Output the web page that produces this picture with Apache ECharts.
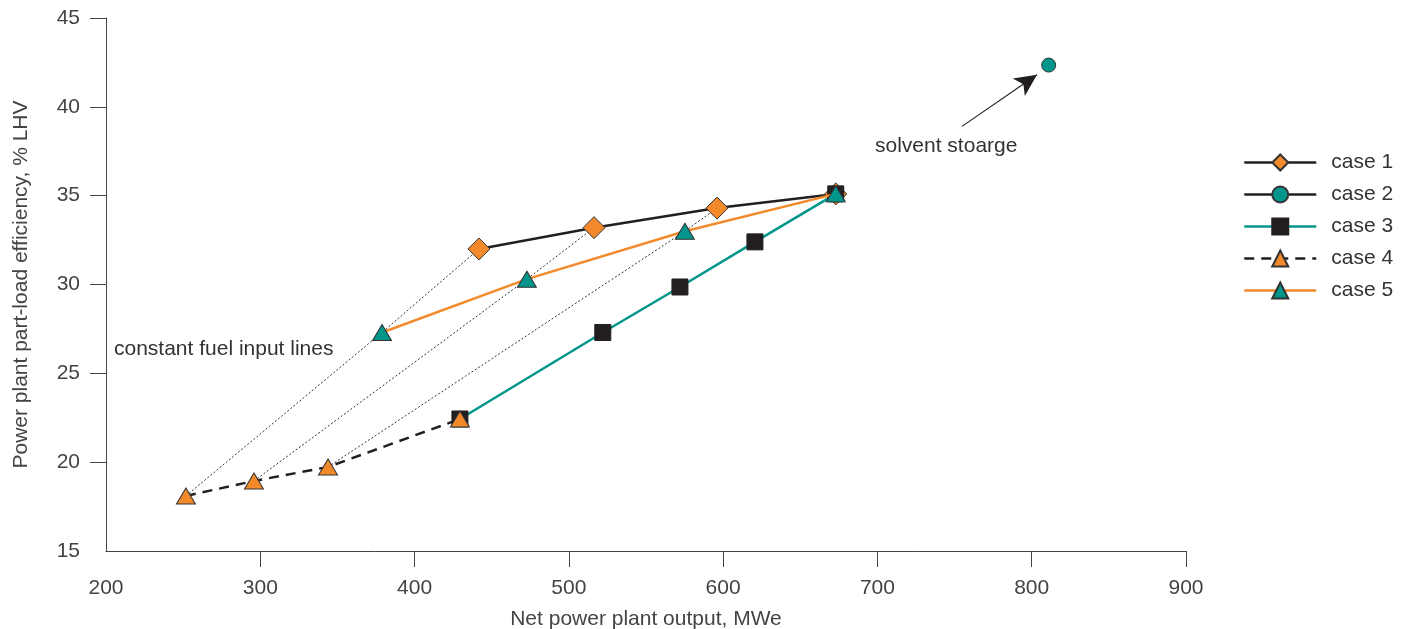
<!DOCTYPE html>
<html>
<head>
<meta charset="utf-8">
<script src="https://cdn.jsdelivr.net/npm/echarts@6/dist/echarts.min.js"></script>
<style>
  html, body { margin: 0; padding: 0; background: #fff; }
  #chart { width: 1409px; height: 629px; }
</style>
</head>
<body>
<div id="chart"></div>
<script>
// values: [net output MWe, efficiency %LHV]
const case1 = [[441.7, 32.0], [516.3, 33.2], [596, 34.3], [673, 35.1]]
const case2 = [[811, 42.35]]
const case3 = [[429.4, 22.43], [522, 27.3], [572, 29.86], [620.6, 32.4], [673, 35.1]]
const case4 = [[251.8, 18.1], [295.9, 18.94], [343.9, 19.73], [429.4, 22.43]]
const case5 = [[378.9, 27.3], [472.8, 30.3], [575.2, 33.0], [673, 35.1]]
// constant fuel input lines
const fuelLine1 = [[251.8, 18.1], [378.9, 27.3], [441.7, 32.0]]
const fuelLine2 = [[295.9, 18.94], [472.8, 30.3], [516.3, 33.2]]
const fuelLine3 = [[343.9, 19.73], [575.2, 33.0], [596, 34.3]]
// arrow to the solvent storage point
const arrowFrom = [754.8, 38.9]
const arrowTo = [803.4, 41.8]

const xTicks = [300, 400, 500, 600, 700, 800, 900]
const yTicks = [20, 25, 30, 35, 40, 45]

const ORANGE = '#F28A2C'
const TEAL = '#00968C'
const DARK = '#231F20'
const FONT = 'Liberation Sans'
const FS = 21

const chart = echarts.init(document.getElementById('chart'), null, { renderer: 'canvas' })

const fuel = (data) => ({
  type: 'line',
  data: data,
  symbol: 'none',
  silent: true,
  z: 1,
  lineStyle: { color: '#333', width: 1, type: [2, 2] },
})

const option = {
  animation: false,
  textStyle: { fontFamily: FONT },
  grid: { left: 106, right: 223, top: 18, bottom: 78, outerBoundsMode: 'none', containLabel: false },
  xAxis: {
    type: 'value',
    min: 200,
    max: 900,
    interval: 100,
    name: 'Net power plant output, MWe',
    nameLocation: 'middle',
    nameGap: 58,
    nameTextStyle: { fontSize: FS, color: '#444', fontFamily: FONT },
    axisLine: { show: true, lineStyle: { color: '#444', width: 1 } },
    axisTick: { show: true, inside: false, length: 16, customValues: xTicks, lineStyle: { color: '#444' } },
    axisLabel: { fontSize: FS, color: '#444', margin: 27, fontFamily: FONT },
    splitLine: { show: false },
  },
  yAxis: {
    type: 'value',
    min: 15,
    max: 45,
    interval: 5,
    name: 'Power plant part-load efficiency, % LHV',
    nameLocation: 'middle',
    nameGap: 74,
    nameTextStyle: { fontSize: FS, color: '#444', fontFamily: FONT },
    axisLine: { show: true, lineStyle: { color: '#444', width: 1 } },
    axisTick: { show: true, inside: false, length: 16, customValues: yTicks, lineStyle: { color: '#444' } },
    axisLabel: { fontSize: FS, color: '#444', margin: 26, fontFamily: FONT },
    splitLine: { show: false },
  },
  legend: {
    orient: 'vertical',
    left: 1238,
    top: 147,
    itemWidth: 72,
    itemHeight: 20,
    itemGap: 11,
    lineStyle: { width: 2.5 },
    data: ['case 1', 'case 2', 'case 3', 'case 4', 'case 5'],
    textStyle: { fontSize: FS, color: '#333', fontFamily: FONT, padding: [0, 0, 0, 10] },
  },
  graphic: [
    {
      type: 'text',
      left: 114,
      top: 339,
      style: { text: 'constant fuel input lines', fontSize: FS, fill: '#333', fontFamily: FONT },
    },
    {
      type: 'text',
      left: 875,
      top: 136,
      style: { text: 'solvent stoarge', fontSize: FS, fill: '#333', fontFamily: FONT },
    },
  ],
  series: [
    fuel(fuelLine1),
    fuel(fuelLine2),
    fuel(fuelLine3),
    {
      name: 'case 1',
      type: 'line',
      data: case1,
      z: 3,
      symbol: 'diamond',
      symbolSize: 22,
      lineStyle: { color: DARK, width: 2.5 },
      itemStyle: { color: ORANGE, borderColor: '#333', borderWidth: 1 },
    },
    {
      name: 'case 2',
      type: 'line',
      data: case2,
      z: 3,
      symbol: 'circle',
      symbolSize: 14,
      lineStyle: { color: DARK, width: 2.5 },
      itemStyle: { color: TEAL, borderColor: '#333', borderWidth: 1 },
      markLine: {
        silent: true,
        symbol: ['none', 'arrow'],
        symbolSize: [16, 22],
        label: { show: false },
        lineStyle: { color: DARK, width: 1.2, type: 'solid' },
        data: [[{ coord: arrowFrom }, { coord: arrowTo }]],
      },
    },
    {
      name: 'case 3',
      type: 'line',
      data: case3,
      z: 4,
      symbol: 'rect',
      symbolSize: 16,
      lineStyle: { color: TEAL, width: 2.5 },
      itemStyle: { color: DARK, borderColor: DARK, borderWidth: 1 },
    },
    {
      name: 'case 4',
      type: 'line',
      data: case4,
      z: 5,
      symbol: 'triangle',
      symbolSize: [19, 16],
      lineStyle: { color: DARK, width: 2.5, type: [10, 7] },
      itemStyle: { color: ORANGE, borderColor: '#333', borderWidth: 1 },
    },
    {
      name: 'case 5',
      type: 'line',
      data: case5,
      z: 5,
      symbol: 'triangle',
      symbolSize: [19, 16],
      lineStyle: { color: ORANGE, width: 2.5 },
      itemStyle: { color: TEAL, borderColor: '#333', borderWidth: 1 },
    },
  ],
}

chart.setOption(option)
</script>
</body>
</html>
